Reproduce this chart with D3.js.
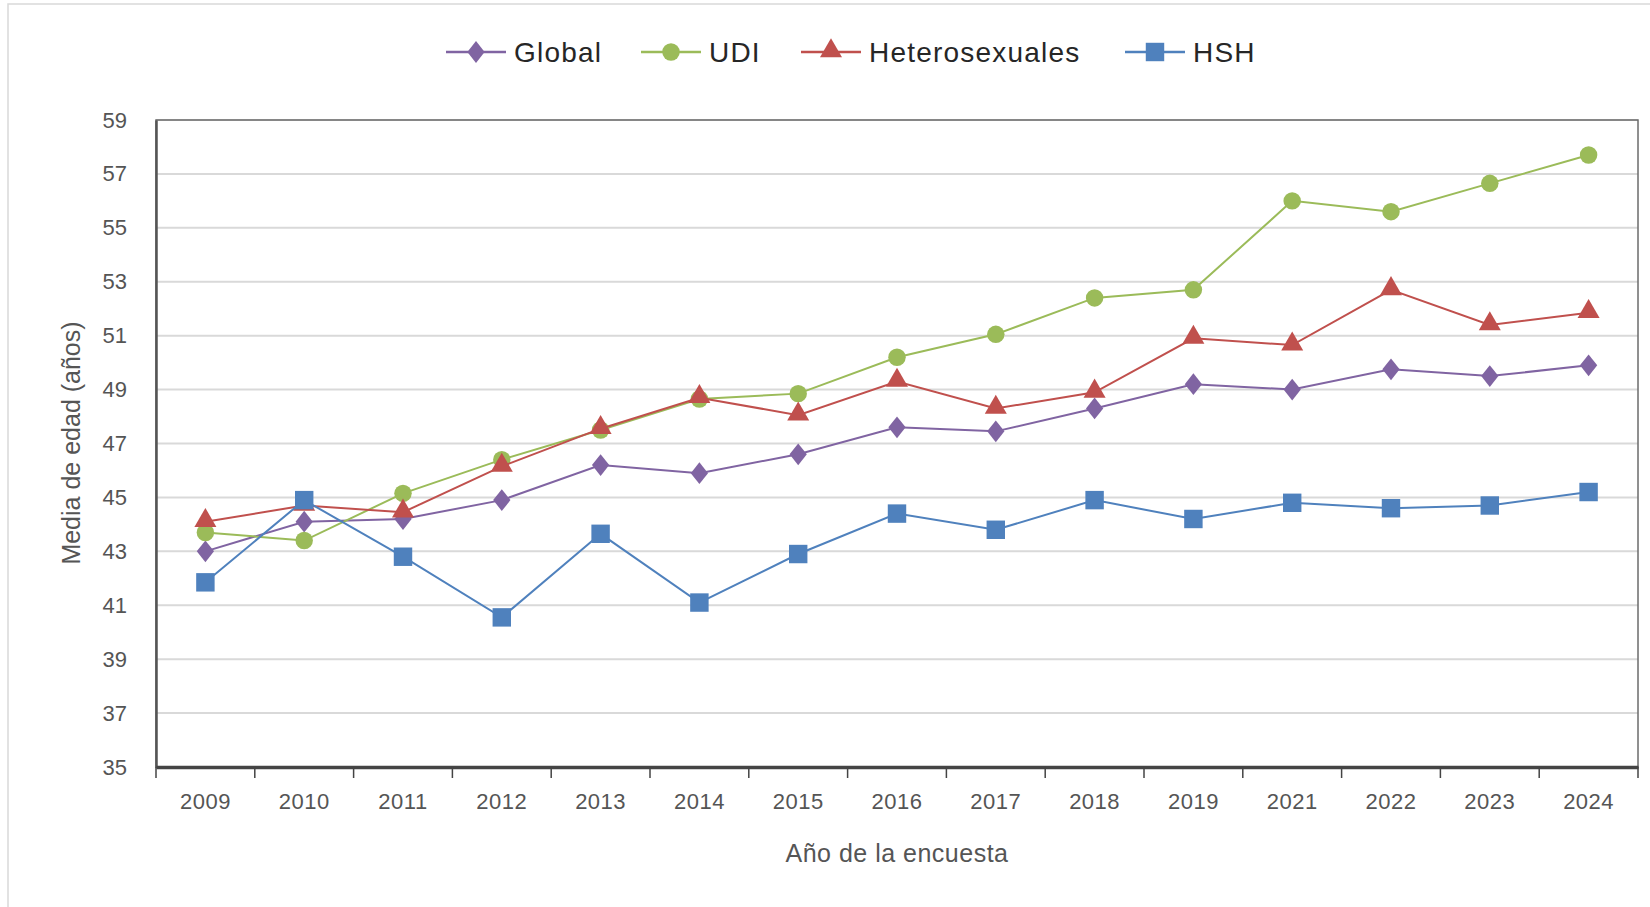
<!DOCTYPE html>
<html>
<head>
<meta charset="utf-8">
<script src="https://cdn.jsdelivr.net/npm/d3@7"></script>
<style>
  body { margin: 0; background: #fff; }
  svg { display: block; }
  text { font-family: "Liberation Sans Narrow", "Liberation Sans", Arial, sans-serif; }
</style>
</head>
<body>
<div id="vis"></div>
<script>
var width = 1650;
var height = 907;

var margin = {top: 120, right: 12, bottom: 140, left: 156};

// data
var years = ["2009", "2010", "2011", "2012", "2013", "2014", "2015", "2016",
  "2017", "2018", "2019", "2021", "2022", "2023", "2024"];
var global_values = [43.0, 44.1, 44.2, 44.9, 46.2, 45.9, 46.6, 47.6, 47.45, 48.3, 49.2, 49.0, 49.75, 49.5, 49.9];
var udi_values = [43.7, 43.4, 45.15, 46.4, 47.5, 48.65, 48.85, 50.2, 51.05, 52.4, 52.7, 56.0, 55.6, 56.65, 57.7];
var hetero_values = [44.1, 44.7, 44.45, 46.15, 47.55, 48.7, 48.05, 49.3, 48.3, 48.9, 50.9, 50.65, 52.7, 51.4, 51.85];
var hsh_values = [41.85, 44.9, 42.8, 40.55, 43.65, 41.1, 42.9, 44.4, 43.8, 44.9, 44.2, 44.8, 44.6, 44.7, 45.2];
var series_names = ["Global", "UDI", "Heterosexuales", "HSH"];
var y_ticks = [35, 37, 39, 41, 43, 45, 47, 49, 51, 53, 55, 57, 59];

var series = [
  {name: series_names[0], values: global_values, color: "#8064a2", symbol: "diamond"},
  {name: series_names[1], values: udi_values, color: "#9bbb59", symbol: "circle"},
  {name: series_names[2], values: hetero_values, color: "#c0504d", symbol: "triangle"},
  {name: series_names[3], values: hsh_values, color: "#4f81bd", symbol: "square"}
];

var plot_w = width - margin.left - margin.right;
var plot_h = height - margin.top - margin.bottom;

var svg = d3.select("#vis").append("svg")
  .attr("width", width)
  .attr("height", height);

// outer chart frame
svg.append("rect")
  .attr("x", 8).attr("y", 4)
  .attr("width", width).attr("height", height)
  .attr("fill", "none")
  .attr("stroke", "#d9d9d9")
  .attr("stroke-width", 1.5);

var g = svg.append("g")
  .attr("transform", "translate(" + margin.left + "," + margin.top + ")");

var x_scale = d3.scaleBand()
  .domain(years)
  .range([0, plot_w]);

var y_scale = d3.scaleLinear()
  .domain([35, 59])
  .range([plot_h, 0]);

function cx(i){ return x_scale(years[i]) + x_scale.bandwidth() / 2; }

// gridlines
g.selectAll(".grid")
  .data(y_ticks.slice(1))
  .enter().append("line")
  .attr("class", "grid")
  .attr("x1", 0).attr("x2", plot_w)
  .attr("y1", d => y_scale(d)).attr("y2", d => y_scale(d))
  .attr("stroke", "#d9d9d9")
  .attr("stroke-width", 2);

// plot frame
g.append("rect")
  .attr("width", plot_w).attr("height", plot_h)
  .attr("fill", "none")
  .attr("stroke", "#6b6b6b")
  .attr("stroke-width", 1.5);

// y axis
var y_axis = g.append("g")
  .call(d3.axisLeft(y_scale).tickValues(y_ticks).tickSize(0).tickPadding(29));
y_axis.select(".domain").attr("stroke", "#555").attr("stroke-width", 2.5);
y_axis.selectAll("text")
  .attr("fill", "#555")
  .style("font-size", "22px");

// x axis
var x_axis = g.append("g")
  .attr("transform", "translate(0," + plot_h + ")")
  .call(d3.axisBottom(x_scale).tickSize(0).tickPadding(26));
x_axis.select(".domain").attr("stroke", "#444").attr("stroke-width", 3.5);
x_axis.selectAll("text")
  .attr("fill", "#555")
  .style("font-size", "22px")
  .style("letter-spacing", "0.5px");

// tick marks between categories
var edges = years.map(d => x_scale(d)).concat([plot_w]);
x_axis.selectAll(".edge")
  .data(edges)
  .enter().append("line")
  .attr("class", "edge")
  .attr("x1", d => d).attr("x2", d => d)
  .attr("y1", 0).attr("y2", 11)
  .attr("stroke", "#444")
  .attr("stroke-width", 1.5);

// axis titles
svg.append("text")
  .attr("x", margin.left + plot_w / 2)
  .attr("y", 862)
  .attr("text-anchor", "middle")
  .attr("fill", "#555")
  .style("font-size", "25px")
  .style("letter-spacing", "0.5px")
  .text("Año de la encuesta");

svg.append("text")
  .attr("transform", "translate(80,443) rotate(-90)")
  .attr("text-anchor", "middle")
  .attr("fill", "#555")
  .style("font-size", "25px")
  .text("Media de edad (años)");

var symbols = {
  diamond: d3.symbol().type(d3.symbolSquare).size(165),
  circle: d3.symbol().type(d3.symbolCircle).size(240),
  triangle: d3.symbol().type(d3.symbolTriangle).size(210),
  square: d3.symbol().type(d3.symbolSquare).size(340)
};

function symbol_transform(sym, x, y){
  if (sym === "diamond") return "translate(" + x + "," + y + ") scale(0.95,1.2) rotate(45)";
  if (sym === "triangle") return "translate(" + x + "," + (y - 1) + ")";
  return "translate(" + x + "," + y + ")";
}

var line = d3.line()
  .x((d, i) => cx(i))
  .y(d => y_scale(d));

series.forEach(function(s){
  var sg = g.append("g").attr("class", "series");
  sg.append("path")
    .datum(s.values)
    .attr("d", line)
    .attr("fill", "none")
    .attr("stroke", s.color)
    .attr("stroke-width", 2);
  sg.selectAll(".marker")
    .data(s.values)
    .enter().append("path")
    .attr("class", "marker")
    .attr("d", symbols[s.symbol]())
    .attr("transform", (d, i) => symbol_transform(s.symbol, cx(i), y_scale(d)))
    .attr("fill", s.color);
});

// legend
var legend_x = [446, 641, 801, 1125];
var legend = svg.append("g").attr("class", "legend");
series.forEach(function(s, i){
  var lg = legend.append("g")
    .attr("transform", "translate(" + legend_x[i] + ",52)");
  lg.append("line")
    .attr("x1", 0).attr("x2", 60)
    .attr("stroke", s.color)
    .attr("stroke-width", 2.5);
  lg.append("path")
    .attr("d", symbols[s.symbol]())
    .attr("transform", symbol_transform(s.symbol, 30, 0))
    .attr("fill", s.color);
  lg.append("text")
    .attr("x", 68)
    .attr("dy", "0.35em")
    .attr("fill", "#262626")
    .style("font-size", "28px")
    .style("letter-spacing", "1.2px")
    .text(s.name);
});
</script>
</body>
</html>
